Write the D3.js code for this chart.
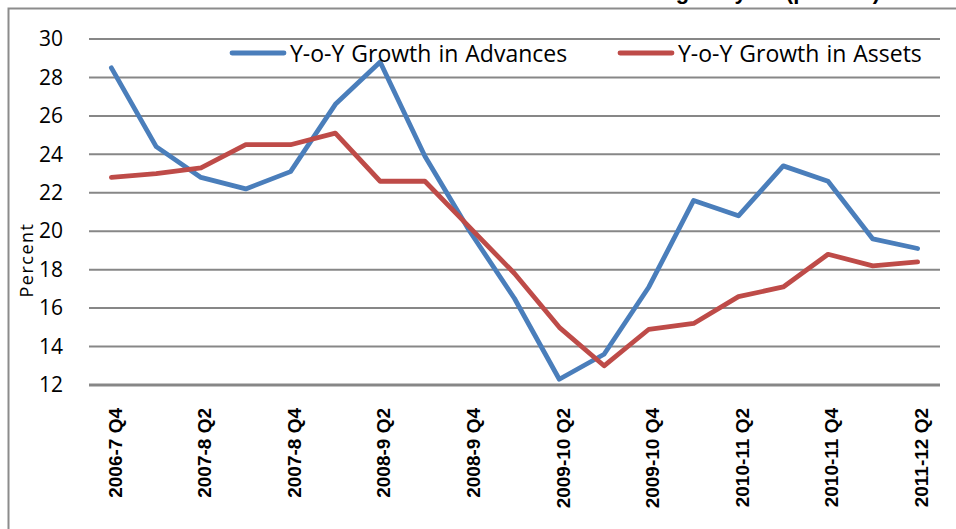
<!DOCTYPE html>
<html>
<head>
<meta charset="utf-8">
<script src="https://cdn.jsdelivr.net/npm/d3@7"></script>
<style>
  body { margin: 0; background: #fff; }
  svg { display: block; }
</style>
</head>
<body>
<div id="chart"></div>
<script>
// quarters (Indian fiscal years), every other one labelled on the axis
var quarters = ["2006-7 Q4", "2007-8 Q1", "2007-8 Q2", "2007-8 Q3", "2007-8 Q4",
    "2008-9 Q1", "2008-9 Q2", "2008-9 Q3", "2008-9 Q4", "2009-10 Q1", "2009-10 Q2",
    "2009-10 Q3", "2009-10 Q4", "2010-11 Q1", "2010-11 Q2", "2010-11 Q3", "2010-11 Q4",
    "2011-12 Q1", "2011-12 Q2"];
var shownLabels = ["2006-7 Q4", "2007-8 Q2", "2007-8 Q4", "2008-9 Q2", "2008-9 Q4",
    "2009-10 Q2", "2009-10 Q4", "2010-11 Q2", "2010-11 Q4", "2011-12 Q2"];
var advances = [28.5, 24.4, 22.8, 22.2, 23.1, 26.6, 28.8, 23.9, 20.0, 16.5,
    12.3, 13.6, 17.1, 21.6, 20.8, 23.4, 22.6, 19.6, 19.1];
var assets = [22.8, 23.0, 23.3, 24.5, 24.5, 25.1, 22.6, 22.6, 20.2, 17.8,
    15.0, 13.0, 14.9, 15.2, 16.6, 17.1, 18.8, 18.2, 18.4];
var yTicks = [12, 14, 16, 18, 20, 22, 24, 26, 28, 30];
var seriesNames = ["Y-o-Y Growth in Advances", "Y-o-Y Growth in Assets"];
var colors = ["#4a7ebb", "#be4b48"];

var width = 956, height = 529;
var plot = {left: 89, right: 940, top: 39, bottom: 385};

var svg = d3.select("#chart")
    .append("svg")
    .attr("width", width)
    .attr("height", height);

// title sits above the frame, only its descenders show
svg.append("text")
    .attr("x", 880)
    .attr("y", -1)
    .attr("text-anchor", "end")
    .style("font-family", "Liberation Sans, Arial, sans-serif")
    .style("font-weight", "bold")
    .style("font-size", "22px")
    .text("Y-o-Y Growth in Advances and Assets during the year (percent)");

// chart frame
svg.append("rect")
    .attr("x", 8.5)
    .attr("y", 8.5)
    .attr("width", 1000)
    .attr("height", 1000)
    .attr("fill", "none")
    .attr("stroke", "#8c8c8c")
    .attr("stroke-width", 2);

var x = d3.scalePoint()
    .domain(quarters)
    .range([plot.left, plot.right])
    .padding(0.5);

var y = d3.scaleLinear()
    .domain([12, 30])
    .range([plot.bottom, plot.top]);

// gridlines
svg.append("g")
    .selectAll("line")
    .data(yTicks)
    .enter()
    .append("line")
    .attr("x1", plot.left)
    .attr("x2", plot.right)
    .attr("y1", function(d) { return y(d); })
    .attr("y2", function(d) { return y(d); })
    .attr("stroke", "#878787")
    .attr("stroke-width", function(d) { return d === 12 ? 3 : 2; });

// y axis labels
var yAxis = svg.append("g")
    .attr("transform", "translate(" + plot.left + ",0)")
    .call(d3.axisLeft(y).tickValues(yTicks).tickSize(0).tickPadding(26));
yAxis.select(".domain").remove();
yAxis.selectAll("text")
    .style("font-family", "Open Sans, sans-serif")
    .style("font-size", "21px")
    .attr("fill", "#000");

// x axis labels
var xAxis = svg.append("g")
    .attr("transform", "translate(0," + plot.bottom + ")")
    .call(d3.axisBottom(x).tickValues(shownLabels).tickSize(0));
xAxis.select(".domain").remove();
xAxis.selectAll("text")
    .attr("transform", "translate(3,23)rotate(-90)")
    .attr("x", 0)
    .attr("y", 0)
    .attr("dy", "0.36em")
    .style("text-anchor", "end")
    .style("font-family", "Liberation Sans, Arial, sans-serif")
    .style("font-weight", "bold")
    .style("font-size", "19px")
    .attr("fill", "#000");

// y title
svg.append("text")
    .attr("transform", "translate(33,260)rotate(-90)")
    .attr("text-anchor", "middle")
    .style("font-family", "Open Sans, sans-serif")
    .style("font-size", "18px")
    .style("letter-spacing", "1.5px")
    .text("Percent");

// lines
var line = d3.line()
    .x(function(d, i) { return x(quarters[i]); })
    .y(function(d) { return y(d); });

[advances, assets].forEach(function(data, k) {
    svg.append("path")
        .datum(data)
        .attr("d", line)
        .attr("fill", "none")
        .attr("stroke", colors[k])
        .attr("stroke-width", 4.8)
        .attr("stroke-linejoin", "round")
        .attr("stroke-linecap", "round");
});

// legend
var legendX = [232, 620];
seriesNames.forEach(function(name, k) {
    var g = svg.append("g").attr("transform", "translate(" + legendX[k] + ",53)");
    g.append("line")
        .attr("x1", 0)
        .attr("x2", 52)
        .attr("stroke", colors[k])
        .attr("stroke-width", 4.8)
        .attr("stroke-linecap", "round");
    g.append("text")
        .attr("x", 58)
        .attr("y", 9)
        .style("font-family", "Open Sans, sans-serif")
        .style("font-size", "23px")
        .style("word-spacing", "1px")
        .text(name);
});
</script>
</body>
</html>
